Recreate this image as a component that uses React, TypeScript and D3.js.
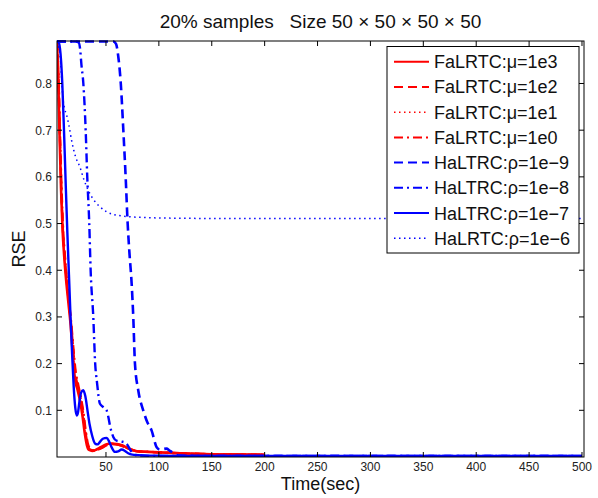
import React from 'react';
import * as d3 from 'd3';

const W = 598;
const H = 498;
const PL = 57, PR = 584, PT = 41, PB = 457;

const xTicks = [50, 100, 150, 200, 250, 300, 350, 400, 450, 500];
const yTicks = [0.1, 0.2, 0.3, 0.4, 0.5, 0.6, 0.7, 0.8];
const xDomain = [3.7, 501.9];
const yDomain = [0, 0.891];

const title = '20% samples   Size 50 × 50 × 50 × 50';
const xLabel = 'Time(sec)';
const yLabel = 'RSE';

// FaLRTC μ=1e3 (solid red)
const r1T = [3.7, 5, 6, 7.5, 9, 10.5, 12.5, 14.5, 16.5, 18.5, 20.5, 23, 25.5, 28, 30, 32, 34, 37, 41, 45, 50, 55, 60, 65, 70, 75, 80, 90, 100, 120, 150, 200];
const r1V = [0.89, 0.8, 0.7, 0.575, 0.485, 0.43, 0.375, 0.33, 0.285, 0.225, 0.17, 0.145, 0.12, 0.085, 0.05, 0.025, 0.015, 0.013, 0.016, 0.021, 0.027, 0.029, 0.028, 0.025, 0.02, 0.015, 0.012, 0.011, 0.01, 0.008, 0.006, 0.005];
// FaLRTC μ=1e2 (dashed red)
const r2T = [3.7, 5.2, 6.3, 7.8, 9.3, 11, 13, 15, 17, 19, 21, 23.5, 26, 28.5, 30.5, 32.5, 35, 38, 42, 46, 50, 55, 60, 65, 70, 75, 80, 90, 100, 120, 150, 200];
const r2V = [0.89, 0.8, 0.7, 0.575, 0.485, 0.43, 0.375, 0.33, 0.285, 0.23, 0.18, 0.15, 0.125, 0.09, 0.055, 0.028, 0.016, 0.014, 0.016, 0.02, 0.025, 0.028, 0.027, 0.024, 0.019, 0.015, 0.012, 0.011, 0.01, 0.008, 0.006, 0.005];
// FaLRTC μ=1e1 (dotted red)
const r3T = [3.7, 5.1, 6.2, 7.6, 9.1, 10.7, 12.7, 14.7, 16.7, 18.7, 20.7, 23.2, 25.7, 28.2, 30.2, 32.2, 34.5, 37.5, 41.5, 45.5, 50, 55, 60, 65, 70, 75, 80, 90, 100, 120, 150, 200];
const r3V = [0.89, 0.8, 0.7, 0.575, 0.485, 0.43, 0.375, 0.33, 0.285, 0.228, 0.175, 0.148, 0.122, 0.088, 0.052, 0.026, 0.015, 0.013, 0.016, 0.021, 0.026, 0.029, 0.028, 0.025, 0.02, 0.015, 0.012, 0.011, 0.01, 0.008, 0.006, 0.005];
// FaLRTC μ=1e0 (dash-dot red)
const r4T = [3.7, 5.3, 6.4, 8, 9.5, 11.2, 13.2, 15.2, 17.2, 19.2, 21.2, 23.7, 26.2, 28.7, 30.7, 32.7, 35.2, 38.5, 42.5, 46.5, 50, 55, 60, 65, 70, 75, 80, 90, 100, 120, 150, 200];
const r4V = [0.89, 0.8, 0.7, 0.575, 0.485, 0.43, 0.375, 0.33, 0.285, 0.232, 0.185, 0.155, 0.128, 0.095, 0.058, 0.03, 0.017, 0.014, 0.016, 0.02, 0.025, 0.028, 0.027, 0.024, 0.019, 0.015, 0.012, 0.011, 0.01, 0.008, 0.006, 0.005];
// HaLTRC ρ=1e-9 (dashed blue)
const b9T = [3.7, 20, 40, 57, 59.5, 61.5, 64, 66.4, 68.6, 70.5, 72, 74.3, 75.8, 77.4, 80.5, 85.2, 89, 93.1, 97.9, 101, 104, 107.3, 110, 112, 115, 120, 150, 200, 300, 400, 500];
const b9V = [0.89, 0.89, 0.89, 0.89, 0.885, 0.86, 0.8, 0.7, 0.6, 0.5, 0.443, 0.37, 0.3, 0.2, 0.143, 0.1, 0.075, 0.057, 0.021, 0.016, 0.017, 0.018, 0.014, 0.011, 0.006, 0.003, 0.002, 0.002, 0.002, 0.002, 0.002];
// HaLTRC ρ=1e-8 (dash-dot blue)
const b8T = [3.7, 10, 20, 24, 25.5, 26.8, 28.6, 30.8, 32.3, 34.2, 35.5, 38, 39.8, 41.5, 44.3, 47.5, 50.6, 52.2, 54, 56.9, 60, 64.8, 67.9, 70, 73, 78, 85, 100, 150, 200, 300, 400, 500];
const b8V = [0.89, 0.89, 0.89, 0.888, 0.875, 0.84, 0.8, 0.7, 0.6, 0.5, 0.4, 0.3, 0.2, 0.16, 0.114, 0.107, 0.1, 0.086, 0.065, 0.043, 0.035, 0.033, 0.031, 0.027, 0.015, 0.004, 0.003, 0.002, 0.002, 0.002, 0.002, 0.002, 0.002];
// HaLTRC ρ=1e-7 (solid blue)
const b7T = [3.7, 5, 6.5, 7.5, 8.7, 10.3, 12, 13.5, 15, 16.5, 18, 19.5, 21, 22.3, 23.5, 25, 26.5, 28.5, 30.5, 32.5, 34.5, 37, 39.6, 42, 44.5, 47, 50.6, 53, 55.5, 58.5, 61.5, 64.8, 68, 71, 75, 80, 90, 100, 120, 150, 200, 300, 400, 500];
const b7V = [0.89, 0.89, 0.875, 0.85, 0.8, 0.7, 0.58, 0.48, 0.39, 0.3, 0.22, 0.15, 0.105, 0.089, 0.095, 0.12, 0.138, 0.143, 0.13, 0.1, 0.07, 0.045, 0.029, 0.027, 0.033, 0.039, 0.041, 0.033, 0.02, 0.011, 0.012, 0.016, 0.013, 0.008, 0.005, 0.004, 0.003, 0.003, 0.002, 0.002, 0.002, 0.002, 0.002, 0.002];
// HaLRTC ρ=1e-6 (dotted blue)
const b6T = [3.7, 5, 6.8, 8.1, 9.5, 11, 12.8, 15, 17.5, 21, 25.4, 29, 33.3, 38, 44.3, 50, 56, 60, 70, 85, 100, 150, 200, 300, 400, 500];
const b6V = [0.89, 0.88, 0.857, 0.81, 0.765, 0.745, 0.732, 0.71, 0.678, 0.645, 0.621, 0.595, 0.571, 0.552, 0.536, 0.526, 0.52, 0.518, 0.515, 0.513, 0.512, 0.511, 0.511, 0.511, 0.511, 0.511];

const labels = [
  'FaLRTC:μ=1e3', 'FaLRTC:μ=1e2', 'FaLRTC:μ=1e1', 'FaLRTC:μ=1e0',
  'HaLTRC:ρ=1e−9', 'HaLTRC:ρ=1e−8', 'HaLTRC:ρ=1e−7', 'HaLRTC:ρ=1e−6',
];
const times = [r1T, r2T, r3T, r4T, b9T, b8T, b7T, b6T];
const values = [r1V, r2V, r3V, r4V, b9V, b8V, b7V, b6V];
const colors = ['#ff0000', '#ff0000', '#ff0000', '#ff0000', '#0000ff', '#0000ff', '#0000ff', '#0000ff'];
const dashes = ['', '9,5', '1.5,3.5', '9,4,2,4', '9,5', '9,4,2,4', '', '1.5,3.5'];
const widths = [2.6, 2.4, 1.5, 2.4, 2.6, 2.4, 2.4, 1.5];

const FONT = 'Liberation Sans, Arial, Helvetica, sans-serif';

export default function App() {
  const x = d3.scaleLinear().domain(xDomain).range([PL, PR]);
  const y = d3.scaleLinear().domain(yDomain).range([PB, PT]);
  const line = d3.line<[number, number]>()
    .x((d) => x(d[0]))
    .y((d) => y(d[1]))
    .curve(d3.curveMonotoneX);

  const legX = 387, legY = 46.5, legW = 192, legH = 206.5;
  const rowY0 = 61.7, rowStep = 25.23;

  return (
    <svg width={W} height={H} style={{ position: 'absolute', left: 0, top: 0, background: '#fff' }} fontFamily={FONT}>
      <rect x={0} y={0} width={W} height={H} fill="#fff" />
      <defs>
        <clipPath id="plotclip">
          <rect x={PL} y={PT - 2} width={PR - PL} height={PB - PT + 2} />
        </clipPath>
      </defs>
      <g clipPath="url(#plotclip)">
        {times.map((ts, i) => (
          <path
            key={i}
            d={line(ts.map((t, j) => [t, values[i][j]] as [number, number])) || ''}
            fill="none"
            stroke={colors[i]}
            strokeWidth={widths[i]}
            strokeDasharray={dashes[i] || undefined}
            strokeLinejoin="round"
          />
        ))}
      </g>
      <rect x={PL} y={PT} width={PR - PL} height={PB - PT} fill="none" stroke="#000" strokeWidth={1} />
      {xTicks.map((t) => (
        <g key={'xt' + t}>
          <line x1={x(t)} x2={x(t)} y1={PB} y2={PB - 5} stroke="#000" />
          <line x1={x(t)} x2={x(t)} y1={PT} y2={PT + 5} stroke="#000" />
          <text x={x(t)} y={471} fontSize={12} textAnchor="middle" fill="#222">{t}</text>
        </g>
      ))}
      {yTicks.map((t) => (
        <g key={'yt' + t}>
          <line x1={PL} x2={PL + 5} y1={y(t)} y2={y(t)} stroke="#000" />
          <line x1={PR} x2={PR - 5} y1={y(t)} y2={y(t)} stroke="#000" />
          <text x={52} y={y(t) + 4.5} fontSize={12} textAnchor="end" fill="#222">{t.toFixed(1)}</text>
        </g>
      ))}
      <text x={(PL + PR) / 2} y={28} fontSize={19} textAnchor="middle" fill="#111" style={{ whiteSpace: 'pre' }}>{title}</text>
      <text x={(PL + PR) / 2} y={490} fontSize={18} textAnchor="middle" fill="#111">{xLabel}</text>
      <text transform={`translate(25,${(PT + PB) / 2}) rotate(-90)`} fontSize={18} textAnchor="middle" fill="#111">{yLabel}</text>
      <rect x={legX} y={legY} width={legW} height={legH} fill="#fff" stroke="#000" strokeWidth={1} />
      {labels.map((lab, i) => {
        const cy = rowY0 + i * rowStep;
        return (
          <g key={'lg' + i}>
            <line x1={394} x2={429} y1={cy} y2={cy} stroke={colors[i]} strokeWidth={Math.min(widths[i], 2)} strokeDasharray={dashes[i] || undefined} />
            <text x={434} y={cy + 6.5} fontSize={18} fill="#111">{lab}</text>
          </g>
        );
      })}
    </svg>
  );
}
